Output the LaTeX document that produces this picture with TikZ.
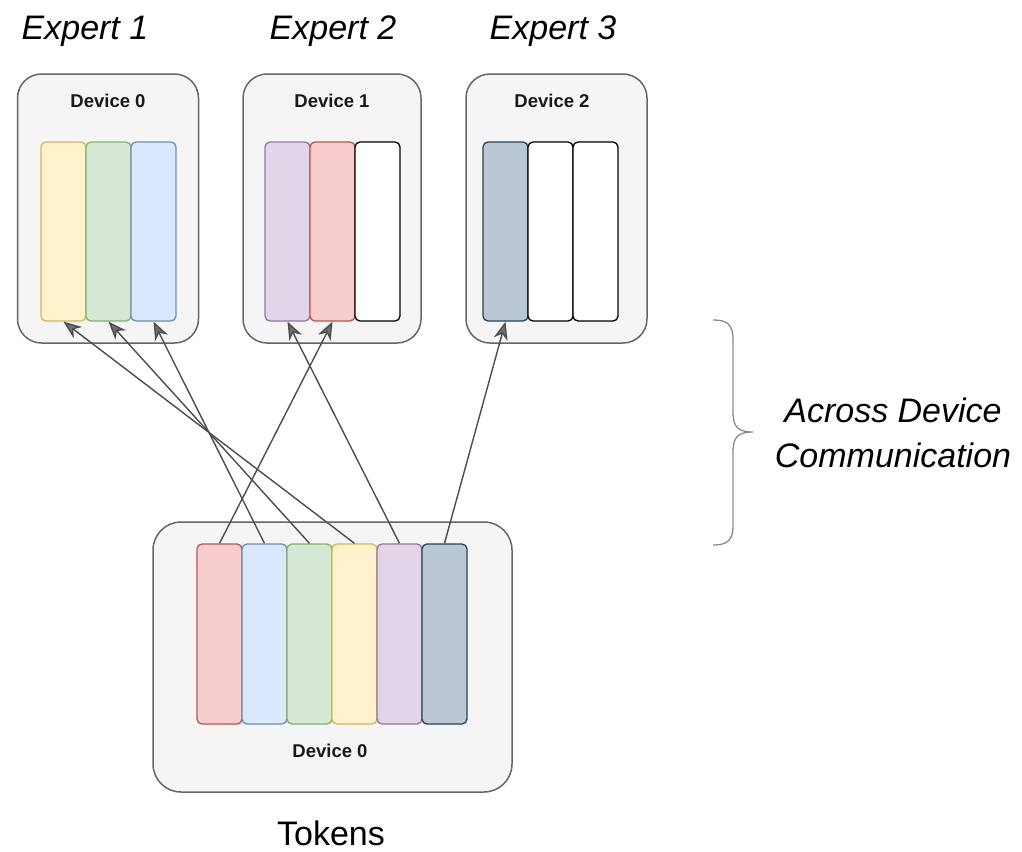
\documentclass[tikz,border=0pt]{standalone}
\usepackage{fontspec}
\setmainfont{Liberation Sans}
\usetikzlibrary{arrows.meta}

\definecolor{devfill}{HTML}{F5F5F5}
\definecolor{devline}{HTML}{666666}
\definecolor{yelF}{HTML}{FFF2CC}\definecolor{yelL}{HTML}{D6B656}
\definecolor{grnF}{HTML}{D5E8D4}\definecolor{grnL}{HTML}{82B366}
\definecolor{bluF}{HTML}{DAE8FC}\definecolor{bluL}{HTML}{6C8EBF}
\definecolor{purF}{HTML}{E1D5E7}\definecolor{purL}{HTML}{9673A6}
\definecolor{redF}{HTML}{F8CECC}\definecolor{redL}{HTML}{B85450}
\definecolor{slaF}{HTML}{BAC8D3}\definecolor{slaL}{HTML}{23445D}
\definecolor{wire}{HTML}{4D4D4D}
\definecolor{bracecol}{HTML}{8A8A8A}

\tikzset{
  device/.style={draw=devline, fill=devfill, line width=1.5pt, rounded corners=24pt,
    inner sep=0pt},
  bar/.style={draw, line width=1.3pt, rounded corners=5pt, inner sep=0pt,
    minimum width=45pt, minimum height=179pt},
  yel/.style={bar, fill=yelF, draw=yelL},
  grn/.style={bar, fill=grnF, draw=grnL},
  blu/.style={bar, fill=bluF, draw=bluL},
  pur/.style={bar, fill=purF, draw=purL},
  red/.style={bar, fill=redF, draw=redL},
  sla/.style={bar, fill=slaF, draw=slaL},
  emp/.style={bar, fill=white, draw=black},
  big/.style={inner sep=0pt, anchor=base, font=\fontsize{34}{40}\selectfont},
  devlabel/.style={inner sep=0pt, anchor=base, font=\fontsize{18.5}{22}\selectfont\bfseries, text=black!90},
  link/.style={draw=wire, line width=1.4pt,
    -{Stealth[length=18pt, width=14pt, inset=5.5pt, fill=wire!80]}},
}

\begin{document}
\begin{tikzpicture}[x=1pt, y=-1pt]
\useasboundingbox (0,0) rectangle (1022,851);

% expert titles
\node[big] (e1) at (85,40) {\itshape Expert 1};
\node[big] (e2) at (333,40) {\itshape Expert 2};
\node[big] (e3) at (553,40) {\itshape Expert 3};

% expert devices
\node[device, minimum width=181pt, minimum height=269pt] (d0) at (108,208.5) {};
\node[device, minimum width=178pt, minimum height=269pt] (d1) at (332,208.5) {};
\node[device, minimum width=181pt, minimum height=269pt] (d2) at (556.5,208.5) {};
\node[devlabel] (d0l) at (108,107) {Device 0};
\node[devlabel] (d1l) at (332,107) {Device 1};
\node[devlabel] (d2l) at (552,107) {Device 2};

% expert slots
\node[yel] (a1) at (63.5,231.5) {};
\node[grn] (a2) at (108.5,231.5) {};
\node[blu] (a3) at (153.5,231.5) {};
\node[pur] (b1) at (287.5,231.5) {};
\node[red] (b2) at (332.5,231.5) {};
\node[emp] (b3) at (377.5,231.5) {};
\node[sla] (c1) at (505.5,231.5) {};
\node[emp] (c2) at (550.5,231.5) {};
\node[emp] (c3) at (595.5,231.5) {};

% token device
\node[device, rounded corners=28pt, minimum width=359pt, minimum height=270pt] (tk) at (332.5,657) {};
\node[red, minimum height=180pt] (t1) at (219.5,634) {};
\node[blu, minimum height=180pt] (t2) at (264.5,634) {};
\node[grn, minimum height=180pt] (t3) at (309.5,634) {};
\node[yel, minimum height=180pt] (t4) at (354.5,634) {};
\node[pur, minimum height=180pt] (t5) at (399.5,634) {};
\node[sla, minimum height=180pt] (t6) at (444.5,634) {};
\node[devlabel] (tkl) at (330,757) {Device 0};
\node[big] (tokens) at (331,845) {Tokens};

% token routing
\draw[link] (t1.north) -- (b2.south);
\draw[link] (t2.north) -- (a3.south);
\draw[link] (t3.north) -- (a2.south);
\draw[link] (t4.north) -- (a1.south);
\draw[link] (t5.north) -- (b1.south);
\draw[link] (t6.north) -- (c1.south);

% brace and its caption
\coordinate (br) at (753,432);
\draw[draw=bracecol, line width=1.3pt]
  (713,320) .. controls (728,320) and (733,325) .. (733,340)
  -- (733,412) .. controls (733,427) and (738,432) .. (br)
  .. controls (738,432) and (733,437) .. (733,452)
  -- (733,525) .. controls (733,540) and (728,545) .. (713,545);
\node[big] (acr1) at (893,422) {\itshape Across Device};
\node[big] (acr2) at (893,467) {\itshape Communication};
\end{tikzpicture}
\end{document}
